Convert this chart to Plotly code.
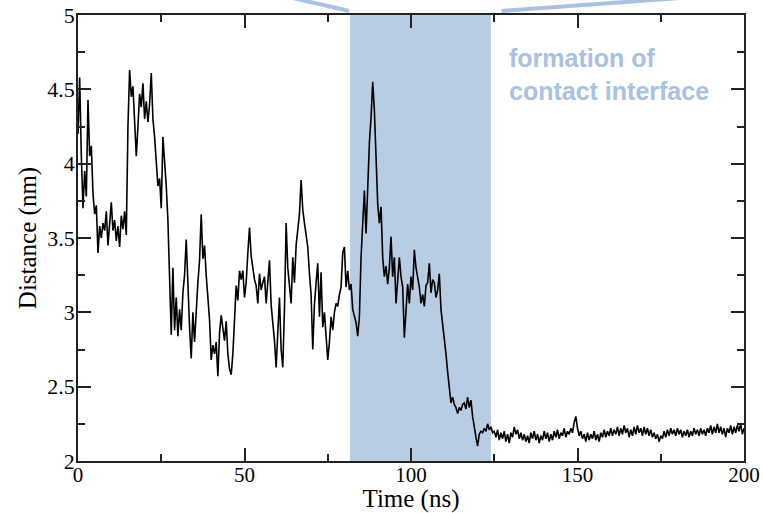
import numpy as np
import plotly.graph_objects as go

# Distance (nm) read at 0.5 ns steps from 0 to 200 ns
distance_nm = [
    # 0 - 14.5
    4.20, 4.58, 4.05, 3.70, 3.95, 3.78, 4.43, 4.05, 4.12, 3.80,
    3.66, 3.72, 3.40, 3.58, 3.50, 3.60, 3.55, 3.68, 3.45, 3.62,
    3.74, 3.55, 3.62, 3.48, 3.58, 3.44, 3.65, 3.56, 3.68, 3.52,
    # 15 - 29.5
    4.25, 4.63, 4.45, 4.52, 4.30, 4.05, 4.25, 4.47, 4.38, 4.54,
    4.30, 4.42, 4.28, 4.40, 4.61, 4.30, 4.18, 3.98, 3.85, 3.90,
    3.70, 4.18, 4.02, 3.85, 3.62, 3.30, 2.85, 3.30, 2.88, 3.10,
    # 30 - 44.5
    2.84, 3.02, 2.88, 3.13, 3.25, 3.49, 3.17, 2.90, 2.69, 3.00,
    2.80, 3.05, 3.20, 3.35, 3.66, 3.36, 3.45, 3.25, 3.10, 2.95,
    2.68, 2.78, 2.72, 2.80, 2.57, 2.86, 2.98, 2.88, 2.81, 2.94,
    # 45 - 59.5
    2.72, 2.62, 2.58, 2.72, 2.97, 3.18, 3.08, 3.28, 3.22, 3.28,
    3.10, 3.20, 3.40, 3.57, 3.38, 3.28, 3.22, 3.18, 3.06, 3.26,
    3.15, 3.20, 3.24, 3.06, 3.20, 3.35, 3.05, 2.95, 2.81, 2.63,
    # 60 - 74.5
    2.90, 3.10, 2.75, 2.63, 3.02, 3.60, 3.30, 3.15, 3.06, 3.37,
    3.20, 3.45, 3.58, 3.66, 3.89, 3.69, 3.60, 3.52, 3.44, 3.26,
    3.12, 2.75, 3.05, 3.20, 3.33, 2.97, 3.27, 2.90, 3.00, 2.84,
    # 75 - 89.5
    2.68, 2.80, 2.97, 2.88, 3.00, 3.06, 3.04, 3.12, 3.17, 3.40,
    3.44, 3.17, 3.28, 3.15, 3.19, 3.02, 2.97, 2.93, 2.84, 2.97,
    3.37, 3.66, 3.82, 3.53, 3.87, 4.14, 4.31, 4.55, 4.36, 3.96,
    # 90 - 104.5
    3.73, 3.60, 3.71, 3.37, 3.24, 3.31, 3.19, 3.30, 3.51, 3.24,
    3.37, 3.06, 3.22, 3.37, 3.24, 3.17, 2.83, 3.05, 3.19, 3.06,
    3.24, 3.15, 3.42, 3.30, 3.24, 3.17, 3.06, 3.12, 3.04, 3.18,
    # 105 - 119.5
    3.20, 3.33, 3.13, 3.22, 3.20, 3.10, 3.15, 3.26, 3.02, 2.93,
    2.83, 2.72, 2.60, 2.48, 2.39, 2.43, 2.38, 2.36, 2.32, 2.36,
    2.34, 2.38, 2.39, 2.35, 2.43, 2.36, 2.41, 2.30, 2.22, 2.16,
    # 120 - 134.5
    2.10, 2.18, 2.20, 2.19, 2.22, 2.20, 2.25, 2.21, 2.23, 2.19,
    2.20, 2.16, 2.21, 2.14, 2.19, 2.15, 2.20, 2.13, 2.18, 2.12,
    2.19, 2.16, 2.23, 2.18, 2.21, 2.15, 2.19, 2.14, 2.18, 2.13,
    # 135 - 149.5
    2.17, 2.12, 2.19, 2.15, 2.20, 2.14, 2.18, 2.12, 2.17, 2.14,
    2.20, 2.15, 2.19, 2.13, 2.18, 2.14, 2.20, 2.16, 2.21, 2.15,
    2.19, 2.17, 2.22, 2.16, 2.20, 2.18, 2.22, 2.19, 2.26, 2.30,
    # 150 - 164.5
    2.22, 2.17, 2.20, 2.15, 2.18, 2.13, 2.19, 2.14, 2.18, 2.15,
    2.20, 2.14, 2.18, 2.13, 2.19, 2.16, 2.21, 2.16, 2.20, 2.17,
    2.22, 2.17, 2.21, 2.18, 2.23, 2.17, 2.22, 2.18, 2.24, 2.19,
    # 165 - 179.5
    2.22, 2.16, 2.21, 2.17, 2.23, 2.18, 2.24, 2.19, 2.22, 2.17,
    2.23, 2.18, 2.22, 2.17, 2.21, 2.16, 2.19, 2.15, 2.18, 2.13,
    2.17, 2.15, 2.20, 2.16, 2.21, 2.17, 2.22, 2.18, 2.21, 2.17,
    # 180 - 194.5
    2.22, 2.18, 2.21, 2.16, 2.20, 2.17, 2.21, 2.16, 2.20, 2.17,
    2.22, 2.18, 2.21, 2.17, 2.22, 2.18, 2.21, 2.17, 2.22, 2.19,
    2.24, 2.18, 2.23, 2.19, 2.25, 2.19, 2.23, 2.18, 2.22, 2.16,
    # 195 - 200
    2.22, 2.19, 2.24, 2.18, 2.23, 2.19, 2.24, 2.20, 2.25, 2.18,
    2.22,
]
time_ns = np.arange(len(distance_nm)) * 0.5

shade_start_ns = 81.7
shade_end_ns = 124.0
annotation_lines = ["formation of", "contact interface"]
x_tick_vals = [0, 50, 100, 150, 200]
y_tick_vals = [2, 2.5, 3, 3.5, 4, 4.5, 5]
y_tick_text = ["2", "2.5", "3", "3.5", "4", "4.5", "5"]

BLUE = "#b8cce4"
TEXT_BLUE = "#a9c1e3"
AX = "#222222"
SERIF = "Liberation Serif, Times New Roman, serif"

fig = go.Figure()
fig.add_trace(go.Scatter(x=time_ns, y=distance_nm, mode="lines",
                         line=dict(color="black", width=1.6), showlegend=False))

fig.add_shape(type="rect", xref="x", yref="y", x0=shade_start_ns, x1=shade_end_ns,
              y0=2, y1=5, fillcolor=BLUE, line=dict(width=0), layer="below")

# callout lines above the plot
fig.add_shape(type="line", xref="x", yref="paper", x0=60.7, y0=1.0448, x1=81.4, y1=1.009,
              line=dict(color=TEXT_BLUE, width=4))
fig.add_shape(type="line", xref="x", yref="paper", x0=127.2, y0=1.009, x1=193.2, y1=1.0448,
              line=dict(color=TEXT_BLUE, width=4))

fig.add_annotation(x=128.8, y=0.866, xref="x", yref="paper", xanchor="left", yanchor="middle",
                   text="<br>".join(annotation_lines), showarrow=False, align="left",
                   font=dict(family="Liberation Sans, Arial, sans-serif", size=25,
                             color=TEXT_BLUE, weight="bold"))

axis_common = dict(showline=True, linecolor=AX, linewidth=1.5, mirror="ticks",
                   ticks="inside", ticklen=13, tickwidth=1.5, tickcolor=AX,
                   showgrid=False, zeroline=False, automargin=False)

fig.update_xaxes(range=[0, 200], tickvals=x_tick_vals, ticklabelstandoff=-6,
                 tickfont=dict(family=SERIF, size=21, color="black"),
                 minor=dict(dtick=25, tick0=0, ticks="inside", ticklen=7, tickwidth=1.5,
                            tickcolor=AX, showgrid=False),
                 title=dict(text="Time (ns)", font=dict(family=SERIF, size=25, color="black"),
                            standoff=3),
                 **axis_common)
fig.update_yaxes(range=[2, 5], tickvals=y_tick_vals, ticktext=y_tick_text,
                 ticklabelstandoff=-3,
                 tickfont=dict(family=SERIF, size=22, color="black"),
                 minor=dict(dtick=0.25, tick0=2, ticks="inside", ticklen=7, tickwidth=1.5,
                            tickcolor=AX, showgrid=False),
                 title=dict(text="Distance (nm)", font=dict(family=SERIF, size=25, color="black"),
                            standoff=4),
                 **axis_common)

fig.update_layout(width=763, height=513, plot_bgcolor="white", paper_bgcolor="white",
                  margin=dict(l=77.5, r=18.5, t=15, b=52), showlegend=False)

fig.write_html("out.html", config={"displayModeBar": False},
               post_script="document.body.style.margin='0';document.body.style.padding='0';")
